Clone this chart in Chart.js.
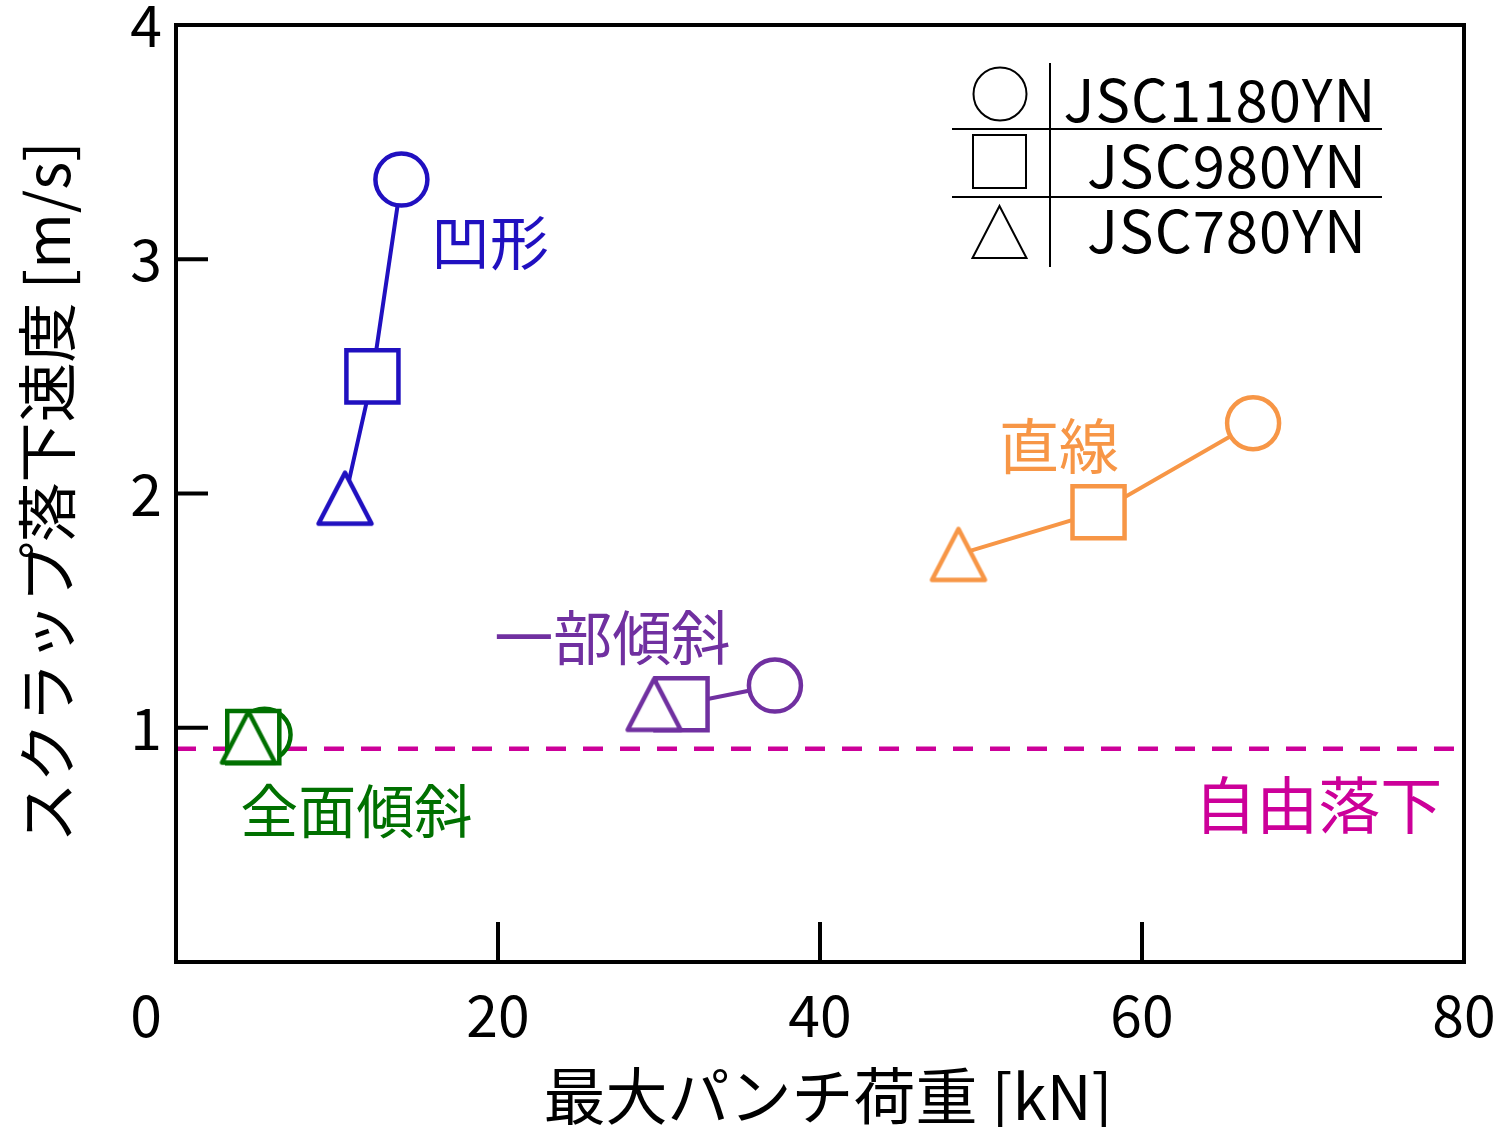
<!DOCTYPE html>
<html>
<head>
<meta charset="utf-8">
<script src="https://cdn.jsdelivr.net/npm/chart.js@4"></script>
<style>
  html, body { margin: 0; padding: 0; background: #ffffff; }
  #wrap { width: 1505px; height: 1127px; }
</style>
</head>
<body>
<div id="wrap"><canvas id="chart" width="1505" height="1127"></canvas></div>
<script>
// Steel grades (one marker shape each) and axis ticks
const steelGrades = ['JSC1180YN', 'JSC980YN', 'JSC780YN'];
const xTicks = [0, 20, 40, 60, 80];
const yTicks = [1, 2, 3, 4];

// Max punch load [kN] and scrap drop speed [m/s], ordered JSC1180YN, JSC980YN, JSC780YN
const concaveLoad   = [14.0, 12.2, 10.5];
const concaveSpeed  = [3.34, 2.50, 1.98];
const straightLoad  = [66.9, 57.3, 48.6];
const straightSpeed = [2.30, 1.92, 1.74];
const partialLoad   = [37.2, 31.4, 29.7];
const partialSpeed  = [1.18, 1.10, 1.10];
const fullLoad      = [5.5, 4.8, 4.5];
const fullSpeed     = [0.97, 0.96, 0.96];
const freeFallSpeed = 0.91;

// Group names
const groupNames = ['凹形', '直線', '一部傾斜', '全面傾斜'];
const freeFallName = '自由落下';

// Colours
const colors = {
  concave: '#2010C0',
  straight: '#F79646',
  partial: '#7030A0',
  full: '#007000',
  freeFall: '#CC0099'
};

const FONT = '"Noto Sans CJK JP", "Noto Sans", sans-serif';

// Open triangle marker (isosceles, white filled)
function triangleMark(color) {
  const c = document.createElement('canvas');
  c.width = 64; c.height = 64;
  const g = c.getContext('2d');
  g.lineWidth = 4.5;
  g.lineJoin = 'round';
  g.beginPath();
  g.moveTo(32, 32 - 25.5);
  g.lineTo(32 + 26.5, 32 + 25.5);
  g.lineTo(32 - 26.5, 32 + 25.5);
  g.closePath();
  g.fillStyle = '#ffffff';
  g.fill();
  g.strokeStyle = color;
  g.stroke();
  return c;
}

function toPoints(xs, ys) {
  return xs.map((x, i) => ({ x: x, y: ys[i] }));
}

function groupDataset(label, xs, ys, color) {
  return {
    label: label,
    data: toPoints(xs, ys),
    showLine: true,
    borderColor: color,
    borderWidth: 4,
    pointStyle: ['circle', 'rect', triangleMark(color)],
    pointRadius: [26, 36.8, 26],
    pointHoverRadius: [26, 36.8, 26],
    pointBorderWidth: 4.5,
    pointBorderColor: color,
    pointBackgroundColor: '#ffffff',
    order: 1
  };
}

const datasets = [
  groupDataset(groupNames[0], concaveLoad, concaveSpeed, colors.concave),
  groupDataset(groupNames[1], straightLoad, straightSpeed, colors.straight),
  groupDataset(groupNames[2], partialLoad, partialSpeed, colors.partial),
  groupDataset(groupNames[3], fullLoad, fullSpeed, colors.full),
  {
    label: freeFallName,
    data: [{ x: xTicks[0], y: freeFallSpeed }, { x: xTicks[xTicks.length - 1], y: freeFallSpeed }],
    showLine: true,
    borderColor: colors.freeFall,
    borderWidth: 4.5,
    borderDash: [20, 17],
    pointRadius: 0,
    order: 5
  }
];

// Text labels placed in data coordinates
const groupLabels = [
  { text: groupNames[0], x: 19.5, y: 3.07, color: colors.concave, size: 59 },
  { text: groupNames[1], x: 54.85, y: 2.20, color: colors.straight, size: 60 },
  { text: groupNames[2], x: 27.1, y: 1.385, color: colors.partial, size: 59 },
  { text: groupNames[3], x: 11.2, y: 0.645, color: colors.full, size: 58 },
  { text: freeFallName, x: 70.95, y: 0.67, color: colors.freeFall, size: 62 }
];

const framePlugin = {
  id: 'frameAndText',
  afterDatasetsDraw(chart) {
    const ctx = chart.ctx;
    const xs = chart.scales.x, ys = chart.scales.y;
    const a = chart.chartArea;
    ctx.save();

    // Group labels
    ctx.textAlign = 'center';
    ctx.textBaseline = 'middle';
    groupLabels.forEach(l => {
      ctx.font = l.size + 'px ' + FONT;
      ctx.fillStyle = l.color;
      ctx.fillText(l.text, xs.getPixelForValue(l.x), ys.getPixelForValue(l.y));
    });

    // Frame
    ctx.strokeStyle = '#000000';
    ctx.lineWidth = 4;
    ctx.lineJoin = 'miter';
    ctx.strokeRect(a.left, a.top, a.right - a.left, a.bottom - a.top);

    // Inward ticks
    ctx.beginPath();
    yTicks.forEach(v => {
      if (v <= ys.min || v >= ys.max) return;
      const py = ys.getPixelForValue(v);
      ctx.moveTo(a.left, py);
      ctx.lineTo(a.left + 32, py);
    });
    xTicks.forEach(v => {
      if (v <= xs.min || v >= xs.max) return;
      const px = xs.getPixelForValue(v);
      ctx.moveTo(px, a.bottom);
      ctx.lineTo(px, a.bottom - 40);
    });
    ctx.stroke();

    // Tick labels
    ctx.fillStyle = '#000000';
    ctx.font = '57px ' + FONT;
    ctx.textBaseline = 'alphabetic';
    ctx.textAlign = 'right';
    yTicks.forEach(v => {
      ctx.fillText(String(v), a.left - 14, ys.getPixelForValue(v) + 22);
    });
    ctx.textAlign = 'center';
    xTicks.forEach((v, i) => {
      const px = xs.getPixelForValue(v) + (i === 0 ? -30 : 0);
      ctx.fillText(String(v), px, a.bottom + 75);
    });

    // Axis titles
    ctx.font = '62px ' + FONT;
    ctx.textBaseline = 'middle';
    ctx.textAlign = 'center';
    ctx.fillText('最大パンチ荷重 [kN]', 828, 1096);
    ctx.font = '60px ' + FONT;
    ctx.save();
    ctx.translate(47, 492);
    ctx.rotate(-Math.PI / 2);
    ctx.fillText('スクラップ落下速度 [m/s]', 0, 0);
    ctx.restore();

    // Legend table
    ctx.lineWidth = 2;
    ctx.strokeStyle = '#000000';
    ctx.beginPath();
    ctx.moveTo(1050, 63); ctx.lineTo(1050, 267);
    ctx.moveTo(952, 129); ctx.lineTo(1382, 129);
    ctx.moveTo(952, 197); ctx.lineTo(1382, 197);
    ctx.stroke();
    // circle
    ctx.beginPath();
    ctx.arc(1000, 94, 26.5, 0, Math.PI * 2);
    ctx.stroke();
    // square
    ctx.strokeRect(973, 135, 53, 53);
    // triangle
    ctx.beginPath();
    ctx.moveTo(999.5, 206);
    ctx.lineTo(1026.5, 258);
    ctx.lineTo(972.5, 258);
    ctx.closePath();
    ctx.stroke();
    ctx.font = '58px ' + FONT;
    ctx.letterSpacing = '1px';
    ctx.textBaseline = 'alphabetic';
    ctx.textAlign = 'center';
    ctx.fillText(steelGrades[0], 1220, 122);
    ctx.fillText(steelGrades[1], 1227, 188);
    ctx.fillText(steelGrades[2], 1227, 253);

    ctx.restore();
  }
};

new Chart(document.getElementById('chart'), {
  type: 'scatter',
  data: { datasets: datasets },
  options: {
    responsive: false,
    animation: false,
    devicePixelRatio: 1,
    layout: { autoPadding: false, padding: { left: 176, top: 25, right: 41, bottom: 165 } },
    scales: {
      x: { type: 'linear', min: xTicks[0], max: xTicks[xTicks.length - 1], display: false },
      y: { type: 'linear', min: 0, max: yTicks[yTicks.length - 1], display: false }
    },
    plugins: {
      legend: { display: false },
      tooltip: { enabled: false }
    }
  },
  plugins: [framePlugin]
});
</script>
</body>
</html>
